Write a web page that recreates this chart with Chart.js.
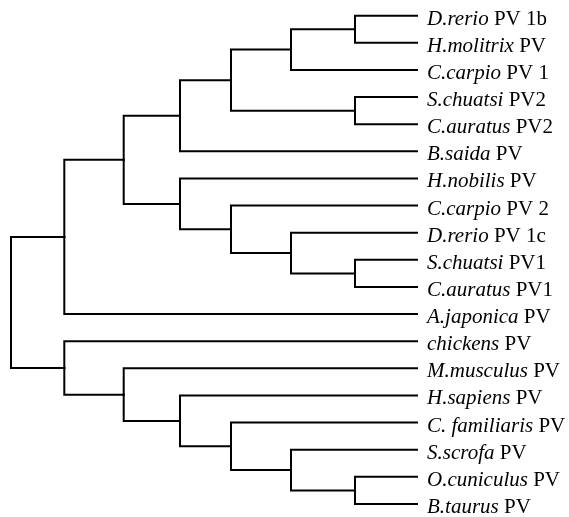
<!DOCTYPE html>
<html>
<head>
<meta charset="utf-8">
<script src="https://cdn.jsdelivr.net/npm/chart.js@4"></script>
<style>
  html, body { margin: 0; padding: 0; background: #ffffff; }
  #wrap { width: 569px; height: 517px; }
</style>
</head>
<body>
<div id="wrap"><canvas id="c" width="569" height="517"></canvas></div>
<script>
// Leaf labels (top to bottom): italic species part + regular suffix
const leafSpecies = ['D.rerio','H.molitrix','C.carpio','S.chuatsi','C.auratus','B.saida','H.nobilis','C.carpio','D.rerio','S.chuatsi','C.auratus','A.japonica','chickens','M.musculus','H.sapiens','C. familiaris','S.scrofa','O.cuniculus','B.taurus'];
const leafSuffix  = ['PV 1b','PV','PV 1','PV2','PV2','PV','PV','PV 2','PV 1c','PV1','PV1','PV','PV','PV','PV','PV','PV','PV','PV'];
const leafDepth = 406;

// Internal nodes: depth from root and children ('L#' = leaf index, 'N#' = node index)
const nodeDepth = [0, 53.3, 53.3, 112.7, 112.7, 169, 169, 220, 280, 344, 344, 220, 280, 344, 169, 220, 280, 344];
const nodeChildren = [
  ['N1','N2'],   // 0 root
  ['N3','L11'],  // 1
  ['L12','N4'],  // 2
  ['N5','N6'],   // 3
  ['L13','N14'], // 4
  ['N7','L5'],   // 5
  ['L6','N11'],  // 6
  ['N8','N9'],   // 7
  ['N10','L2'],  // 8
  ['L3','L4'],   // 9
  ['L0','L1'],   // 10
  ['L7','N12'],  // 11
  ['L8','N13'],  // 12
  ['L9','L10'],  // 13
  ['L14','N15'], // 14
  ['L15','N16'], // 15
  ['L16','N17'], // 16
  ['L17','L18']  // 17
];

function posOf(id) {
  const k = id[0], i = parseInt(id.slice(1), 10);
  if (k === 'L') return { x: leafDepth, y: i };
  const ys = nodeChildren[i].map(c => posOf(c).y);
  return { x: nodeDepth[i], y: ys.reduce((a, b) => a + b, 0) / ys.length };
}

const datasets = [];
nodeChildren.forEach((children, i) => {
  const p = posOf('N' + i);
  children.forEach(c => {
    const q = posOf(c);
    datasets.push({
      data: [{ x: p.x, y: p.y }, { x: p.x, y: q.y }, { x: q.x, y: q.y }],
      borderColor: '#000000',
      borderWidth: 2,
      pointRadius: 0,
      showLine: true,
      fill: false,
      tension: 0,
      clip: false,
      borderCapStyle: 'square',
      borderJoinStyle: 'miter'
    });
  });
});

const labelPlugin = {
  id: 'leafLabels',
  afterDatasetsDraw(chart) {
    const ctx = chart.ctx;
    const xs = chart.scales.x, ys = chart.scales.y;
    ctx.save();
    ctx.fillStyle = '#000000';
    ctx.textBaseline = 'alphabetic';
    ctx.textAlign = 'left';
    leafSpecies.forEach((sp, i) => {
      const x = xs.getPixelForValue(leafDepth) + 10;
      const y = ys.getPixelForValue(i) + 9;
      ctx.font = 'italic 21px "Liberation Serif"';
      ctx.fillText(sp, x, y);
      const w = ctx.measureText(sp + ' ').width;
      ctx.font = '21px "Liberation Serif"';
      ctx.fillText(leafSuffix[i], x + w, y);
    });
    ctx.restore();
  }
};

new Chart(document.getElementById('c'), {
  type: 'scatter',
  data: { datasets },
  options: {
    responsive: false,
    animation: false,
    devicePixelRatio: 1,
    layout: { padding: { left: 11, right: 152, top: 15.7, bottom: 13 } },
    plugins: { legend: { display: false }, tooltip: { enabled: false } },
    scales: {
      x: { type: 'linear', min: 0, max: leafDepth, display: false },
      y: { type: 'linear', min: 0, max: leafSpecies.length - 1, reverse: true, display: false }
    }
  },
  plugins: [labelPlugin]
});
</script>
</body>
</html>
